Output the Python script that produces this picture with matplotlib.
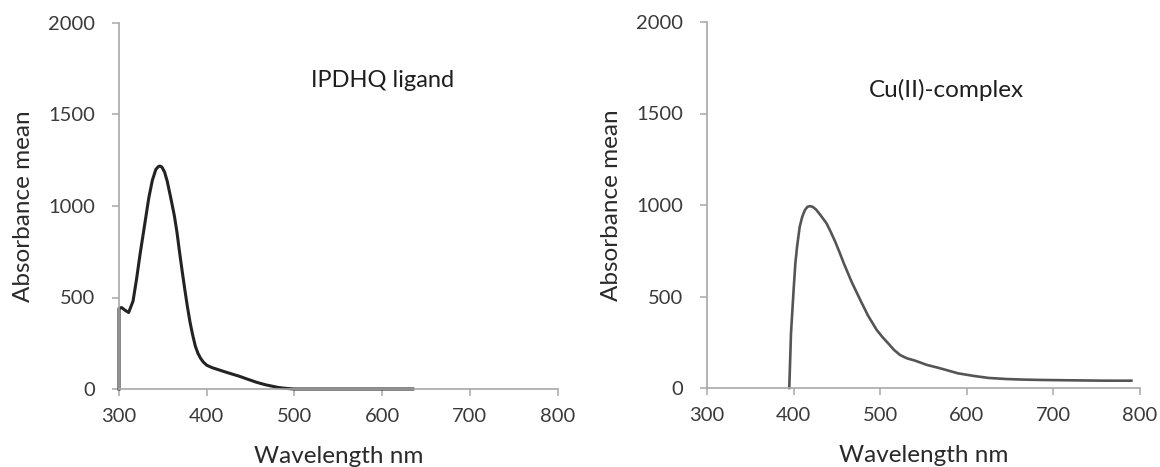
import matplotlib
matplotlib.use("Agg")
import matplotlib.pyplot as plt

# Left panel: IPDHQ ligand
wl_ligand = [300, 300, 303, 307, 311, 316, 320, 324, 329, 334, 338, 342, 345, 347,
             349, 352, 355, 359, 363, 366, 369, 372, 375, 378, 381, 384, 387, 390,
             393, 396, 400, 406, 413, 420, 428, 437, 444, 450, 456, 461, 468, 475,
             481, 487, 494, 500, 520, 560, 600, 635]
abs_ligand = [0, 440, 445, 430, 418, 480, 600, 736, 890, 1045, 1140, 1200, 1216, 1218,
              1212, 1185, 1135, 1045, 950, 860, 750, 645, 545, 450, 365, 295, 235, 195,
              168, 148, 130, 117, 106, 95, 83, 70, 58, 48, 38, 31, 22, 15,
              9, 5, 2, 0, 0, 0, 0, 0]

# Right panel: Cu(II)-complex
wl_complex = [395, 397, 400, 402, 404, 407, 410, 413, 416, 419, 422, 426, 431, 438,
              443, 448, 453, 458, 467, 477, 486, 496, 503, 510, 516, 523, 531, 540,
              554, 569, 590, 608, 625, 646, 665, 685, 720, 760, 790]
abs_complex = [0, 300, 535, 680, 772, 880, 936, 972, 990, 994, 990, 975, 945, 900,
               852, 800, 742, 681, 580, 481, 395, 317, 276, 240, 208, 180, 162, 150,
               126, 108, 80, 66, 55, 49, 46, 44, 42, 40, 40]

x_ticks = [300, 400, 500, 600, 700, 800]
y_ticks = [0, 500, 1000, 1500, 2000]

plt.rcParams['font.family'] = ['Lato', 'DejaVu Sans']

fig = plt.figure(figsize=(11.6, 4.67), dpi=100)
ax1 = fig.add_axes([119/1160, 1-389/467, 438.5/1160, 366/467])
ax2 = fig.add_axes([707/1160, 1-388/467, 433/1160, 366/467])

spine_col = '#a8a8a8'
text_col = '#3a3a3a'

def style(ax):
    ax.set_xlim(300, 800)
    ax.set_ylim(0, 2000)
    ax.set_xticks(x_ticks)
    ax.set_yticks(y_ticks)
    for s in ['top', 'right']:
        ax.spines[s].set_visible(False)
    for s in ['left', 'bottom']:
        ax.spines[s].set_color(spine_col)
        ax.spines[s].set_linewidth(1.2)
    ax.tick_params(axis='both', direction='out', length=5, width=1.1,
                   color=spine_col, labelcolor=text_col, labelsize=14.5)
    ax.tick_params(axis='y', pad=12)
    ax.tick_params(axis='x', pad=9)
    ax.set_xlabel('Wavelength nm', fontsize=17.5, color='#2a2a2a', labelpad=15)
    ax.set_ylabel('Absorbance mean', fontsize=17.5, color='#2a2a2a', labelpad=10)
    ax.patch.set_alpha(0)

style(ax1)
style(ax2)

ax1.plot(wl_ligand, abs_ligand, color='#232323', lw=2.2, clip_on=False,
         solid_joinstyle='round')
ax2.plot(wl_complex, abs_complex, color='#555555', lw=1.9, clip_on=False,
         solid_joinstyle='round')

ax1.text(600, 1650, 'IPDHQ ligand', fontsize=17, color='#1e1e1e',
         ha='center', va='baseline')
ax2.text(577, 1590, 'Cu(II)-complex', fontsize=17.5, color='#1e1e1e',
         ha='center', va='baseline')

fig.savefig('out.png', dpi=100)
